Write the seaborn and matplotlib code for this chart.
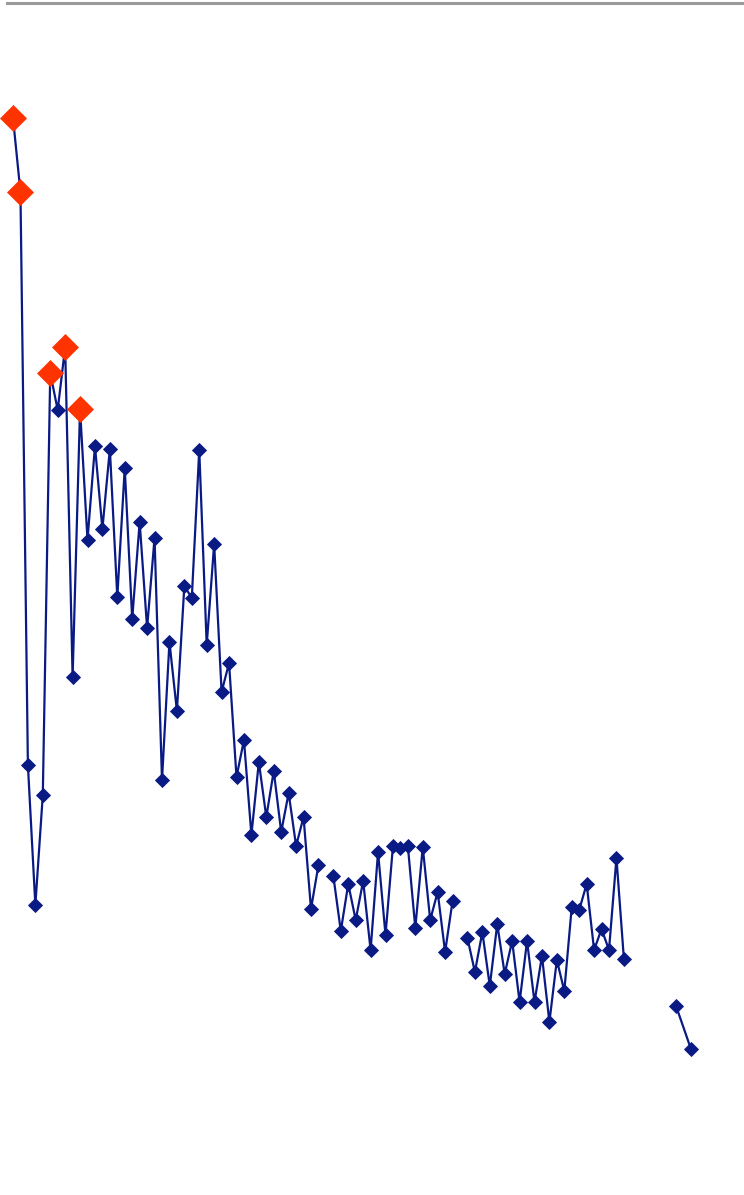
import numpy as np
import pandas as pd
import matplotlib
matplotlib.use("Agg")
import matplotlib.pyplot as plt
import seaborn as sns

# ---- data (index positions and values) ----
seg1_x = list(range(0, 42))
seg1_y = [98.2, 90.8, 33.5, 19.5, 30.5, 72.7, 69.0, 75.3, 42.3, 69.1,
          56.0, 65.4, 57.1, 65.1, 50.3, 63.2, 48.1, 57.8, 47.2, 56.2,
          32.0, 45.8, 38.9, 51.4, 50.2, 65.0, 45.5, 55.6, 40.8, 43.7,
          32.3, 36.0, 26.5, 33.8, 28.3, 32.9, 26.8, 30.7, 25.4, 28.3,
          19.1, 23.5]
seg2_x = list(range(43, 60))
seg2_y = [22.4, 16.9, 21.6, 18.0, 21.9, 15.0, 24.8, 16.5, 25.4, 25.2,
          25.4, 17.2, 25.3, 18.0, 20.8, 14.8, 19.9]
seg3_x = list(range(61, 83))
seg3_y = [16.2, 12.8, 16.8, 11.4, 17.6, 12.6, 15.9, 9.8, 15.9, 9.8,
          14.4, 7.8, 14.0, 10.9, 19.3, 19.0, 21.6, 15.0, 17.1, 15.0,
          24.2, 14.1]
seg4_x = [89, 91]
seg4_y = [9.4, 5.1]

highlight_idx = [0, 1, 5, 7, 9]

xs = seg1_x + seg2_x + seg3_x + seg4_x
ys = seg1_y + seg2_y + seg3_y + seg4_y
segs = ([1] * len(seg1_x) + [2] * len(seg2_x) + [3] * len(seg3_x)
        + [4] * len(seg4_x))
df = pd.DataFrame({"x": xs, "y": ys, "seg": segs})
hi = df[df["x"].isin(highlight_idx) & (df["seg"] == 1)]

NAVY = "#0a1a84"
RED = "#ff3300"

sns.set_style("white")
fig = plt.figure(figsize=(7.44, 11.95), dpi=100)
ax = fig.add_axes([7 / 744, 0, 1 - 7 / 744, 1 - 3 / 1195])

sns.lineplot(data=df, x="x", y="y", units="seg", estimator=None,
             color=NAVY, lw=1.6, marker="D", markersize=7.2,
             markeredgecolor=NAVY, markeredgewidth=0.6, ax=ax,
             legend=False, zorder=2, clip_on=False)
sns.scatterplot(data=hi, x="x", y="y", marker="D", color=RED, s=175,
                edgecolor=RED, linewidth=0.5, ax=ax, legend=False, zorder=3,
                clip_on=False)

ax.set_xlim((7 - 13) / 7.45, (744 - 13) / 7.45)
ax.set_ylim(-9.5, 109.7)
ax.set_xlabel("")
ax.set_ylabel("")
ax.set_xticks([])
ax.set_yticks([])
for side in ["left", "right", "bottom"]:
    ax.spines[side].set_visible(False)
ax.spines["top"].set_visible(True)
ax.spines["top"].set_color("#9a9a9a")
ax.spines["top"].set_linewidth(2.2)

fig.savefig("out.png", dpi=100)
